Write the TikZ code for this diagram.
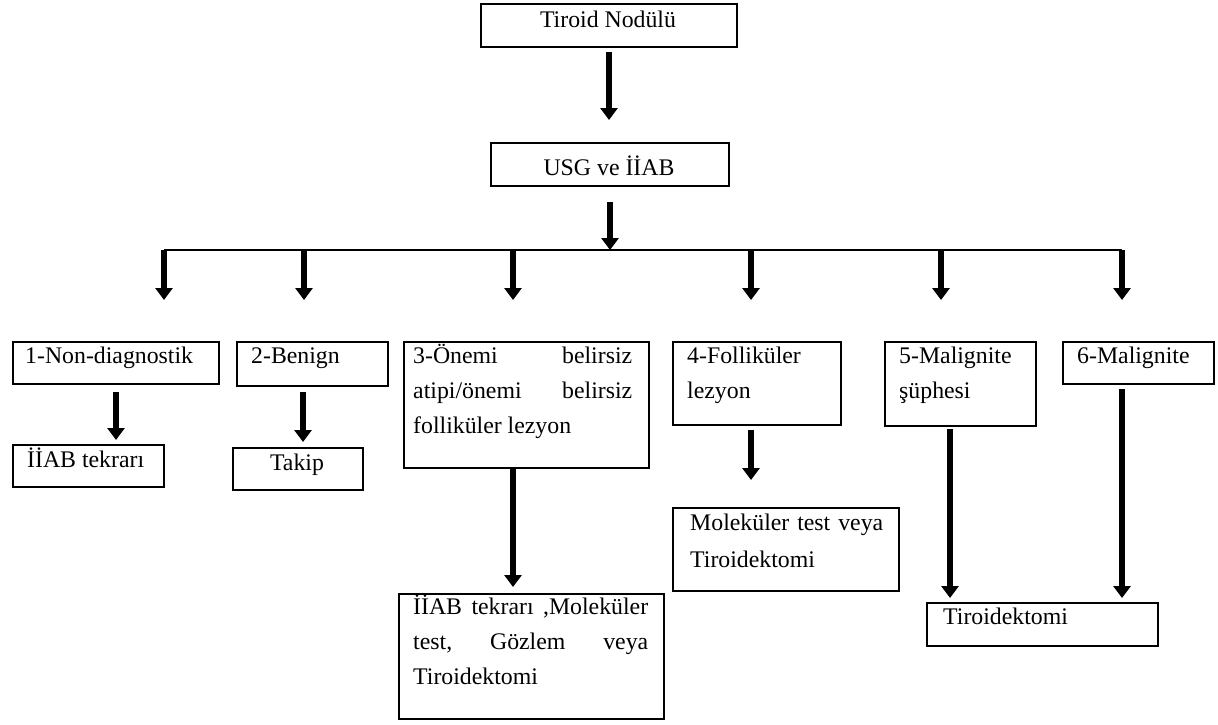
\documentclass[tikz,border=0pt]{standalone}
\usepackage{fontspec}
\setmainfont{Liberation Serif}
\usetikzlibrary{arrows.meta,calc}
\newcommand{\jline}[1]{\makebox[\linewidth][s]{#1}}
\begin{document}
\begin{tikzpicture}[x=1pt,y=-1pt,
  box/.style={draw,line width=2pt,inner sep=0pt,anchor=north west},
  lbl/.style={inner sep=0pt,anchor=base west,font=\fontsize{23.8}{35}\selectfont},
  arr/.style={line width=6pt,-{Triangle[width=17pt,length=12pt]}},
  hline/.style={line width=1.6pt}
  ]
\useasboundingbox (0,0) rectangle (1218,724);

% boxes
\node[box,minimum width=256pt,minimum height=43pt] (top) at (480,3) {};
\node[box,minimum width=238pt,minimum height=43pt] (usg) at (490,142) {};
\node[box,minimum width=206pt,minimum height=42pt] (b1) at (12,341) {};
\node[box,minimum width=151pt,minimum height=44pt] (b2) at (236,341) {};
\node[box,minimum width=245pt,minimum height=126pt] (b3) at (403,341) {};
\node[box,minimum width=168pt,minimum height=83pt] (b4) at (672,341) {};
\node[box,minimum width=151pt,minimum height=84pt] (b5) at (884,341) {};
\node[box,minimum width=151pt,minimum height=42pt] (b6) at (1062,341) {};
\node[box,minimum width=151pt,minimum height=42pt] (c1) at (12,444) {};
\node[box,minimum width=130pt,minimum height=42pt] (c2) at (232,447) {};
\node[box,minimum width=265pt,minimum height=125pt] (c3) at (398,593) {};
\node[box,minimum width=226pt,minimum height=83pt] (c4) at (672,507) {};
\node[box,minimum width=231pt,minimum height=43pt] (c5) at (926,602) {};

% texts
\node[lbl,anchor=base] (ttop) at (608,27) {Tiroid Nodülü};
\node[lbl,anchor=base] (tusg) at (609,175) {USG ve İİAB};
\node[lbl] (tb1) at (25,363) {1-Non-diagnostik};
\node[lbl] (tb2) at (251,363) {2-Benign};
\node[lbl] (tb3) at (413,363) {\parbox[t]{219pt}{\jline{3-Önemi\hfill belirsiz}\\\jline{atipi/önemi\hfill belirsiz}\\folliküler lezyon}};
\node[lbl] (tb4) at (687,363) {\parbox[t]{150pt}{4-Folliküler\\lezyon}};
\node[lbl] (tb5) at (899,363) {\parbox[t]{130pt}{5-Malignite\\şüphesi}};
\node[lbl] (tb6) at (1077,363) {6-Malignite};
\node[lbl] (tc1) at (27,467) {İİAB tekrarı};
\node[lbl,anchor=base] (tc2) at (297,470) {Takip};
\node[lbl] (tc3) at (413,614) {\parbox[t]{235pt}{\jline{İİAB tekrarı ,Moleküler}\\\jline{test,\hfill Gözlem\hfill veya}\\Tiroidektomi}};
\node[lbl] (tc4) at (690,530) {\parbox[t]{193pt}{\baselineskip=37pt\jline{Moleküler test veya}\\Tiroidektomi}};
\node[lbl] (tc5) at (943,624) {Tiroidektomi};

% junction and branch line
\coordinate (J) at (610,250);
\coordinate (d1) at (164,250);
\coordinate (d2) at (304,250);
\coordinate (d3) at (513,250);
\coordinate (d4) at (751,250);
\coordinate (d5) at (941,250);
\coordinate (d6) at (1122,250);

\draw[arr,shorten <=4pt,shorten >=22pt] (top.south) -- (top.south |- usg.north);
\draw[arr,shorten <=15pt] (usg.south) -- (usg.south |- J);
\draw[hline] (d1) -- (d6);

\foreach \d/\b in {d1/b1,d2/b2,d3/b3,d4/b4,d5/b5,d6/b6}
  \draw[arr,shorten >=41pt] (\d) -- (\d |- \b.north);

% lower arrows
\draw[arr,shorten <=7pt,shorten >=4pt] (b1.south) -- (b1.south |- c1.north);
\draw[arr,shorten <=5pt,shorten >=5pt] ([xshift=-9.5pt]b2.south) -- ([xshift=-9.5pt]b2.south |- c2.north);
\draw[arr,shorten >=6pt] (d3 |- b3.south) -- (d3 |- c3.north);
\draw[arr,shorten <=4pt,shorten >=27pt] (d4 |- b4.south) -- (d4 |- c4.north);
\draw[arr,shorten <=2pt,shorten >=4pt] ([xshift=-10.5pt]b5.south) -- ([xshift=-10.5pt]b5.south |- c5.north);
\draw[arr,shorten <=4pt,shorten >=4pt] ([xshift=-16.5pt]b6.south) -- ([xshift=-16.5pt]b6.south |- c5.north);
\end{tikzpicture}
\end{document}
